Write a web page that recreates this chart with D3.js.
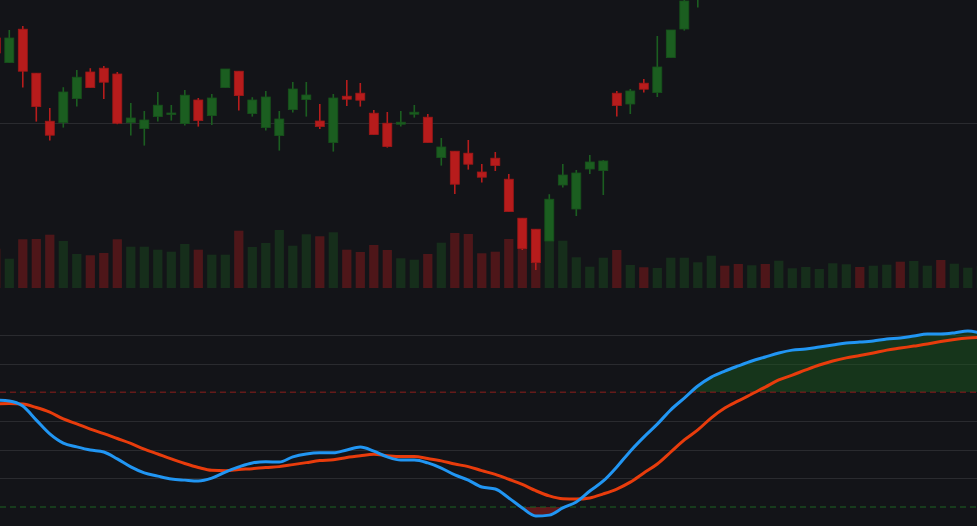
<!DOCTYPE html>
<html>
<head>
<meta charset="utf-8">
<script src="https://cdn.jsdelivr.net/npm/d3@7"></script>
<style>
  html, body { margin: 0; padding: 0; background: #131418; overflow: hidden; }
  svg { display: block; }
</style>
</head>
<body>
<svg id="svg"></svg>
<script>
const width = 977;
const height = 526;

// candle data, one entry per bar (off-screen bars at the end keep the up-trend going)
const opens  = [24.27, 23.04, 24.71, 22.51, 20.11, 20.04, 21.24, 22.57, 22.76, 22.47,
                20.04, 19.74, 20.34, 20.46, 19.99, 21.17, 20.39, 21.79, 22.61, 20.49,
                19.79, 19.39, 20.69, 21.19, 20.12, 19.04, 21.36, 21.51, 20.51, 20.01,
                19.96, 20.46, 20.31, 18.29, 18.61, 18.51, 17.57, 18.26, 17.21, 15.26,
                14.71, 14.12, 16.92, 15.72, 17.72, 17.64, 21.51, 20.97, 22.01, 21.54,
                23.29, 24.72, 26.42, 28.10, 29.60, 29.20, 28.90, 30.50, 30.10, 31.40,
                32.00, 32.60, 33.10, 33.90, 34.60, 34.30, 35.00, 35.80, 35.50, 36.30,
                37.10, 36.90, 37.60, 38.20];
const highs  = [24.42, 24.67, 24.87, 22.52, 20.77, 21.81, 22.67, 22.76, 22.87, 22.57,
                21.02, 20.62, 21.57, 20.92, 21.67, 21.27, 21.47, 22.72, 22.61, 21.31,
                21.62, 20.62, 22.07, 22.07, 20.97, 21.47, 22.17, 22.02, 20.67, 20.57,
                20.62, 20.92, 20.47, 19.27, 18.61, 19.17, 17.97, 18.57, 17.47, 15.26,
                14.71, 16.46, 17.97, 17.67, 18.42, 18.16, 21.62, 21.72, 22.22, 24.37,
                24.67, 26.37, 28.67, 29.80, 30.10, 29.70, 30.60, 30.90, 31.70, 32.30,
                32.90, 33.40, 34.20, 34.80, 35.00, 35.30, 36.00, 36.20, 36.60, 37.30,
                37.50, 37.90, 38.50, 38.90];
const lows   = [23.37, 23.02, 21.79, 20.09, 19.14, 19.79, 20.84, 21.79, 21.22, 19.96,
                19.39, 18.89, 20.09, 20.14, 19.89, 19.84, 19.92, 21.79, 20.64, 20.34,
                19.64, 18.64, 20.54, 20.34, 19.72, 18.59, 20.87, 20.84, 19.44, 18.79,
                19.84, 20.29, 19.04, 17.89, 16.47, 17.69, 17.04, 17.62, 15.59, 13.67,
                12.67, 14.12, 16.79, 15.37, 17.47, 16.42, 20.34, 20.47, 21.54, 21.32,
                23.29, 24.64, 25.79, 27.90, 28.70, 28.40, 28.70, 29.70, 29.90, 31.10,
                31.80, 32.30, 32.90, 33.60, 33.90, 34.10, 34.80, 35.10, 35.30, 36.10,
                36.50, 36.70, 37.40, 37.90];
const closes = [23.52, 24.27, 22.61, 20.84, 19.41, 21.57, 22.31, 21.79, 22.06, 20.01,
                20.27, 20.17, 20.91, 20.52, 21.41, 20.14, 21.27, 22.72, 21.39, 21.17,
                21.32, 20.22, 21.72, 21.42, 19.84, 21.27, 21.21, 21.16, 19.44, 18.84,
                20.06, 20.56, 19.04, 18.82, 16.96, 17.96, 17.31, 17.89, 15.59, 13.74,
                13.04, 16.21, 17.42, 17.52, 18.07, 18.12, 20.89, 21.62, 21.71, 22.82,
                24.67, 26.12, 28.17, 29.40, 29.00, 28.80, 30.30, 30.00, 31.40, 32.00,
                32.60, 33.10, 33.90, 34.50, 34.20, 35.00, 35.70, 35.40, 36.30, 37.00,
                36.80, 37.60, 38.20, 38.60];
const volumes = [3930, 2930, 4870, 4900, 5330, 4700, 3400, 3270, 3500, 4870,
                 4130, 4130, 3830, 3630, 4400, 3830, 3330, 3330, 5730, 4100,
                 4500, 5800, 4230, 5370, 5170, 5570, 3830, 3600, 4300, 3800,
                 2970, 2830, 3400, 4530, 5500, 5400, 3470, 3630, 4900, 4800,
                 3800, 4700, 4730, 3070, 2130, 3030, 3800, 2300, 2070, 2000,
                 3030, 3030, 2570, 3230, 2230, 2400, 2270, 2400, 2730, 1970,
                 2100, 1900, 2470, 2370, 2100, 2230, 2330, 2630, 2700, 2230,
                 2800, 2430, 2030, 2200];

// oscillator: RSI and its moving average
const rsi   = [67.3, 67.0, 65.2, 60.3, 55.5, 52.3, 51.0, 49.9, 49.2, 46.8,
               44.0, 41.9, 40.8, 39.8, 39.4, 39.1, 40.1, 42.2, 44.0, 45.4,
               45.8, 45.7, 47.5, 48.5, 48.9, 48.9, 49.9, 50.9, 49.5, 47.5,
               46.4, 46.4, 45.4, 43.6, 41.2, 39.4, 37.0, 36.3, 33.2, 29.7,
               26.9, 27.2, 29.7, 31.8, 35.6, 39.1, 44.0, 49.5, 54.4, 58.9,
               63.9, 68.0, 72.2, 75.3, 77.4, 79.2, 80.9, 82.3, 83.7, 84.7,
               85.1, 85.8, 86.5, 87.2, 87.5, 87.9, 88.6, 88.9, 89.6, 90.3,
               90.3, 90.7, 91.4, 90.5];
const rsiMa = [65.9, 66.1, 65.9, 64.7, 63.1, 60.7, 59.0, 57.2, 55.6, 53.9,
               52.2, 50.2, 48.5, 46.8, 45.2, 43.8, 42.8, 42.7, 43.1, 43.4,
               43.8, 44.1, 44.8, 45.5, 46.2, 46.5, 47.3, 47.9, 48.4, 47.9,
               47.6, 47.6, 46.9, 46.1, 45.0, 44.1, 42.7, 41.4, 39.7, 37.9,
               35.7, 33.9, 32.9, 32.8, 33.2, 34.6, 36.3, 38.7, 41.9, 45.0,
               49.2, 53.4, 56.9, 61.1, 64.5, 67.0, 69.4, 71.8, 74.3, 76.0,
               77.8, 79.5, 80.9, 82.0, 82.8, 83.7, 84.7, 85.4, 86.1, 86.8,
               87.7, 88.4, 88.9, 89.1];

const priceTicks = [20];
const rsiTicks = [40, 50, 60, 80, 90];
const upperBand = 70;
const lowerBand = 30;

const upColor = "#1b5e20";
const downColor = "#b71c1c";

let svg = d3.select("#svg").attr("width", width).attr("height", height);

svg.append("rect").attr("width", width).attr("height", height).attr("fill", "#131418");

const idx = d3.range(closes.length);

const xScale = d3.scaleLinear().domain([0, closes.length - 1]).range([-4.2, 981.3]);
const yPrice = d3.scaleLinear().domain([11.17, 26.17]).range([300, 0]);
const yVol = d3.scaleLinear().domain([0, 6000]).range([288, 228]);
const yRsi = d3.scaleLinear().domain([20, 100]).range([535.8, 306.2]);

const defs = svg.append("defs");
defs.append("clipPath").attr("id", "price-clip")
    .append("rect").attr("x", 0).attr("y", 0).attr("width", width).attr("height", 298);
defs.append("clipPath").attr("id", "above-clip")
    .append("rect").attr("x", 0).attr("y", 0).attr("width", width).attr("height", yRsi(upperBand));
defs.append("clipPath").attr("id", "below-clip")
    .append("rect").attr("x", 0).attr("y", yRsi(lowerBand)).attr("width", width).attr("height", height - yRsi(lowerBand));

// ---------- price panel ----------
let pricePanel = svg.append("g").attr("clip-path", "url(#price-clip)");

pricePanel.selectAll(".price-grid")
    .data(priceTicks)
    .join("line")
    .attr("class", "price-grid")
    .attr("x1", 0).attr("x2", width)
    .attr("y1", d => Math.round(yPrice(d)) + 0.5)
    .attr("y2", d => Math.round(yPrice(d)) + 0.5)
    .attr("stroke", "#2a2b2f")
    .attr("stroke-width", 1);

const isUp = i => closes[i] >= opens[i];
const barW = 9.2;

// volume first so candles sit on top
pricePanel.selectAll(".vol")
    .data(idx)
    .join("rect")
    .attr("class", "vol")
    .attr("x", i => xScale(i) - barW / 2)
    .attr("width", barW)
    .attr("y", i => yVol(volumes[i]))
    .attr("height", i => yVol(0) - yVol(volumes[i]))
    .attr("fill", i => isUp(i) ? upColor : downColor)
    .attr("fill-opacity", 0.36);

let candles = pricePanel.selectAll(".candle")
    .data(idx)
    .join("g")
    .attr("class", "candle");

candles.append("line")
    .attr("x1", i => xScale(i)).attr("x2", i => xScale(i))
    .attr("y1", i => yPrice(highs[i]))
    .attr("y2", i => yPrice(lows[i]))
    .attr("stroke", i => isUp(i) ? upColor : downColor)
    .attr("stroke-width", 1.6);

candles.append("rect")
    .attr("x", i => xScale(i) - 4.5)
    .attr("width", 9)
    .attr("y", i => yPrice(Math.max(opens[i], closes[i])))
    .attr("height", i => Math.max(1.5, Math.abs(yPrice(opens[i]) - yPrice(closes[i]))))
    .attr("fill", i => isUp(i) ? upColor : downColor)
    .attr("stroke", i => d3.color(isUp(i) ? upColor : downColor).darker(0.4))
    .attr("stroke-width", 0.8);

// ---------- RSI panel ----------
let rsiPanel = svg.append("g");

rsiPanel.selectAll(".rsi-grid")
    .data(rsiTicks)
    .join("line")
    .attr("class", "rsi-grid")
    .attr("x1", 0).attr("x2", width)
    .attr("y1", d => Math.round(yRsi(d)) + 0.5)
    .attr("y2", d => Math.round(yRsi(d)) + 0.5)
    .attr("stroke", "#2a2b2f")
    .attr("stroke-width", 1.2);

// shade where RSI leaves the band
const bandArea = level => d3.area()
    .x(i => xScale(i))
    .y0(yRsi(level))
    .y1(i => yRsi(rsi[i]))
    .curve(d3.curveMonotoneX);

rsiPanel.append("path")
    .datum(idx)
    .attr("d", bandArea(upperBand))
    .attr("clip-path", "url(#above-clip)")
    .attr("fill", upColor)
    .attr("fill-opacity", 0.45);

rsiPanel.append("path")
    .datum(idx)
    .attr("d", bandArea(lowerBand))
    .attr("clip-path", "url(#below-clip)")
    .attr("fill", downColor)
    .attr("fill-opacity", 0.45);

rsiPanel.append("line")
    .attr("x1", 0).attr("x2", width)
    .attr("y1", yRsi(upperBand)).attr("y2", yRsi(upperBand))
    .attr("stroke", downColor).attr("stroke-opacity", 0.5)
    .attr("stroke-width", 1.5)
    .attr("stroke-dasharray", "6,4");

rsiPanel.append("line")
    .attr("x1", 0).attr("x2", width)
    .attr("y1", yRsi(lowerBand)).attr("y2", yRsi(lowerBand))
    .attr("stroke", upColor).attr("stroke-opacity", 0.75)
    .attr("stroke-width", 1.5)
    .attr("stroke-dasharray", "6,4");

const lineOf = series => d3.line()
    .x(i => xScale(i))
    .y(i => yRsi(series[i]))
    .curve(d3.curveMonotoneX);

rsiPanel.append("path")
    .datum(idx)
    .attr("d", lineOf(rsiMa))
    .attr("fill", "none")
    .attr("stroke", "#e83c0c")
    .attr("stroke-width", 3)
    .attr("stroke-linejoin", "round");

rsiPanel.append("path")
    .datum(idx)
    .attr("d", lineOf(rsi))
    .attr("fill", "none")
    .attr("stroke", "#2196f3")
    .attr("stroke-width", 3)
    .attr("stroke-linejoin", "round");
</script>
</body>
</html>
